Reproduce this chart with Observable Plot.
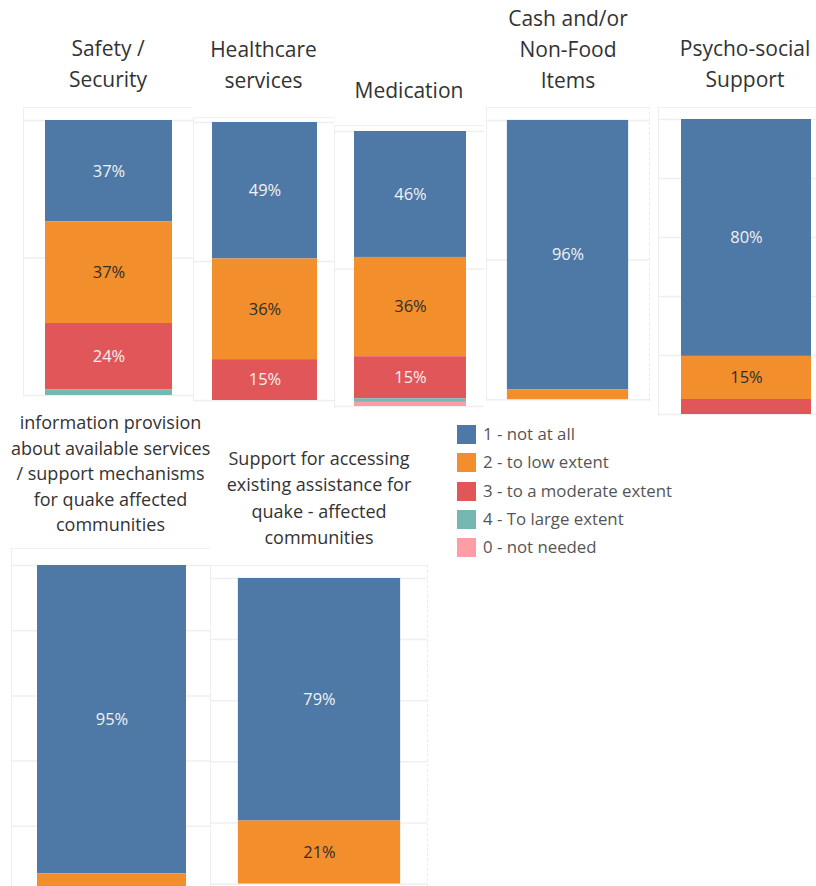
<!DOCTYPE html>
<html><head><meta charset="utf-8">
<script src="https://cdn.jsdelivr.net/npm/d3@7"></script>
<script src="https://cdn.jsdelivr.net/npm/@observablehq/plot@0.6"></script>
<style>
body{margin:0;background:#fff;font-family:"Open Sans",sans-serif;}
#root{position:relative;width:816px;height:886px;overflow:hidden;background:#fff;}
.title{position:absolute;text-align:center;color:#333;white-space:nowrap;}
.pane{position:absolute;border-left:1px solid #eeeeee;border-top:1px solid #f0f0f0;box-sizing:border-box;}
.pane svg{display:block;}
.legend{position:absolute;left:457px;top:425px;font-size:16.8px;color:#555;}
.legend .row{position:relative;height:28.3px;line-height:20px;}
.legend .sw{position:absolute;left:0;top:0;width:19px;height:19px;}
.legend .lb{position:absolute;left:26px;top:-1px;white-space:nowrap;}
</style></head><body><div id="root"></div>
<script>
// ---- data ----
const levels = ["1 - not at all", "2 - to low extent", "3 - to a moderate extent", "4 - To large extent", "0 - not needed"];
const colors = ["#4e79a7", "#f28e2b", "#e15759", "#76b7b2", "#ff9da7"];

const titleLines = [
  ["Safety /", "Security"],
  ["Healthcare", "services"],
  ["Medication"],
  ["Cash and/or", "Non-Food", "Items"],
  ["Psycho-social", "Support"],
  ["information provision", "about available services", "/ support mechanisms", "for quake affected", "communities"],
  ["Support for accessing", "existing assistance for", "quake - affected", "communities"]
];
const categories = titleLines.map(l => l.join(" "));

// percentages per level, in the order of `levels`
const safetyValues      = [36.9, 36.9, 24.1, 2.1, 0];
const healthcareValues  = [49.1, 36.2, 14.7, 0, 0];
const medicationValues  = [45.8, 36.1, 15.3, 1.3, 1.5];
const cashNfiValues     = [96.4, 3.6, 0, 0, 0];
const psychoValues      = [80.3, 14.6, 5.1, 0, 0];
const infoValues        = [94.6, 5.4, 0, 0, 0];
const accessValues      = [79.4, 20.6, 0, 0, 0];
const seriesValues = [safetyValues, healthcareValues, medicationValues, cashNfiValues, psychoValues, infoValues, accessValues];

const gridSteps = [50, 50, 50, 50, 20, 20, 20];

// ---- layout (pixels) ----
const panes = [
  {left: 23,  w: 170, frameTop: 107, barTop: 120, barBottom: 394, titleY: 48,  lh: 31,   fs: 21},
  {left: 193, w: 141, frameTop: 117, barTop: 122, barBottom: 399, titleY: 49,  lh: 31,   fs: 21},
  {left: 334, w: 150, frameTop: 125, barTop: 131, barBottom: 405, titleY: 90,  lh: 31,   fs: 21},
  {left: 486, w: 164, frameTop: 107, barTop: 120, barBottom: 400, titleY: 18,  lh: 31,   fs: 21, dashRight: true},
  {left: 658, w: 174, frameTop: 107, barTop: 119, barBottom: 413, titleY: 48,  lh: 31,   fs: 21},
  {left: 11,  w: 199, frameTop: 548, barTop: 565, barBottom: 890, titleY: 423, lh: 25.5, fs: 18},
  {left: 210, w: 218, frameTop: 565, barTop: 578, barBottom: 884, titleY: 458, lh: 26.6, fs: 18, dashRight: true}
];

const root = document.getElementById("root");
const order = levels.slice().reverse(); // bottom -> top
const fmt = v => Math.round(v) + "%";

categories.forEach((cat, i) => {
  const p = panes[i];
  const rows = levels.map((level, j) => ({cat, level, value: seriesValues[i][j]})).filter(d => d.value > 0);

  // title
  const t = document.createElement("div");
  t.className = "title";
  t.style.left = p.left + "px";
  t.style.width = p.w + "px";
  t.style.fontSize = p.fs + "px";
  t.style.lineHeight = p.lh + "px";
  t.style.top = (p.titleY - p.lh / 2) + "px";
  t.innerHTML = titleLines[i].join("<br>");
  root.appendChild(t);

  const svgH = p.barBottom - p.frameTop + 2;
  const chart = Plot.plot({
    width: p.w - 1,
    height: svgH,
    marginLeft: 0, marginRight: 0,
    marginTop: p.barTop - p.frameTop - 1,
    marginBottom: 2,
    x: {domain: [cat], padding: 0.14, axis: null},
    y: {domain: [0, 100], axis: null},
    color: {domain: levels, range: colors},
    style: {fontFamily: "'Open Sans', sans-serif", background: "transparent"},
    marks: [
      Plot.ruleY(d3.range(0, 100 + 1e-9, gridSteps[i]), {stroke: "#efefef", strokeWidth: 1.5}),
      Plot.barY(rows, {x: "cat", y: "value", fill: "level", z: "level", order}),
      Plot.text(rows, Plot.stackY({x: "cat", y: "value", z: "level", order,
        text: d => d.value >= 10 && d.level !== levels[1] ? fmt(d.value) : null,
        fill: "#f2f2f2", fontSize: 16.5})),
      Plot.text(rows, Plot.stackY({x: "cat", y: "value", z: "level", order,
        text: d => d.value >= 10 && d.level === levels[1] ? fmt(d.value) : null,
        fill: "#2e2e2e", fontSize: 16.5}))
    ]
  });
  const pane = document.createElement("div");
  pane.className = "pane";
  pane.style.left = p.left + "px";
  pane.style.top = p.frameTop + "px";
  pane.style.width = p.w + "px";
  if (p.dashRight) pane.style.borderRight = "1px dashed #e6ecf4";
  pane.appendChild(chart);
  root.appendChild(pane);
});

// legend
const lg = document.createElement("div");
lg.className = "legend";
levels.forEach((level, j) => {
  const r = document.createElement("div");
  r.className = "row";
  r.innerHTML = `<div class="sw" style="background:${colors[j]}"></div><div class="lb">${level}</div>`;
  lg.appendChild(r);
});
root.appendChild(lg);
</script></body></html>
